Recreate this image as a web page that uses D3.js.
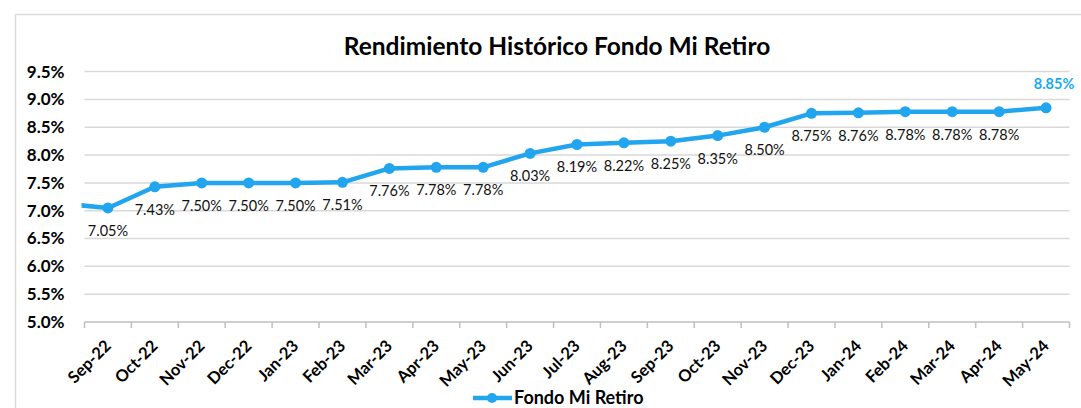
<!DOCTYPE html>
<html>
<head>
<meta charset="utf-8">
<script src="https://cdn.jsdelivr.net/npm/d3@7"></script>
<style>
  body { margin: 0; background: #fff; }
  svg { display: block; font-family: Lato, "Open Sans", sans-serif; }
</style>
</head>
<body>
<div id="chart"></div>
<script>
// chart data
const months = ["Sep-22", "Oct-22", "Nov-22", "Dec-22", "Jan-23", "Feb-23", "Mar-23",
  "Apr-23", "May-23", "Jun-23", "Jul-23", "Aug-23", "Sep-23", "Oct-23", "Nov-23",
  "Dec-23", "Jan-24", "Feb-24", "Mar-24", "Apr-24", "May-24"];
const rendimiento = [7.05, 7.43, 7.50, 7.50, 7.50, 7.51, 7.76, 7.78, 7.78, 8.03, 8.19,
  8.22, 8.25, 8.35, 8.50, 8.75, 8.76, 8.78, 8.78, 8.78, 8.85];
// the line comes in from the month before the first category (cut at the plot edge)
const previousMonth = 7.13;
const yTicks = [5.0, 5.5, 6.0, 6.5, 7.0, 7.5, 8.0, 8.5, 9.0, 9.5];

const width = 1081;
const height = 408;
const blue = "#22a5ef";
const plot = { left: 84.5, right: 1069.5, top: 71.6, bottom: 322 };

const svg = d3.select("#chart")
  .append("svg")
  .attr("width", width)
  .attr("height", height);

// outer chart frame
svg.append("rect")
  .attr("x", 15.5)
  .attr("y", 14.5)
  .attr("width", 1100)
  .attr("height", 420)
  .attr("fill", "none")
  .attr("stroke", "#d9d9d9")
  .attr("stroke-width", 1.5);

svg.append("text")
  .attr("x", 557)
  .attr("y", 55)
  .attr("text-anchor", "middle")
  .attr("font-size", "24.5px")
  .attr("font-weight", "bold")
  .attr("fill", "#000")
  .text("Rendimiento Histórico Fondo Mi Retiro");

const x = d3.scaleBand()
  .domain(months)
  .range([plot.left, plot.right])
  .padding(0);
const bw = x.bandwidth();
const cx = (m) => x(m) + bw / 2;

const y = d3.scaleLinear()
  .domain([5.0, 9.5])
  .range([plot.bottom, plot.top]);

// gridlines
svg.append("g")
  .selectAll("line")
  .data(yTicks.slice(1))
  .enter()
  .append("line")
  .attr("x1", plot.left)
  .attr("x2", plot.right)
  .attr("y1", (d) => y(d))
  .attr("y2", (d) => y(d))
  .attr("stroke", "#d9d9d9")
  .attr("stroke-width", 1.5);

// y axis labels
const yAxis = svg.append("g")
  .attr("transform", `translate(${plot.left},0)`)
  .call(d3.axisLeft(y).tickValues(yTicks).tickSize(0).tickPadding(20)
    .tickFormat((d) => d.toFixed(1) + "%"));
yAxis.select(".domain").remove();
yAxis.selectAll("text")
  .attr("font-family", "Lato, sans-serif")
  .attr("font-size", "17px")
  .attr("font-weight", "bold")
  .attr("fill", "#000");

// x axis: line, ticks between categories, rotated labels
svg.append("line")
  .attr("x1", plot.left)
  .attr("x2", plot.right)
  .attr("y1", plot.bottom)
  .attr("y2", plot.bottom)
  .attr("stroke", "#bfbfbf")
  .attr("stroke-width", 1.5);

const tickPos = months.map((m) => x(m)).concat([plot.right]);
svg.append("g")
  .selectAll("line")
  .data(tickPos)
  .enter()
  .append("line")
  .attr("x1", (d) => d)
  .attr("x2", (d) => d)
  .attr("y1", plot.bottom)
  .attr("y2", plot.bottom + 6)
  .attr("stroke", "#bfbfbf")
  .attr("stroke-width", 1.5);

svg.append("g")
  .selectAll("text")
  .data(months)
  .enter()
  .append("text")
  .attr("transform", (d) => `translate(${cx(d) + 4},${plot.bottom + 25}) rotate(-45)`)
  .attr("text-anchor", "end")
  .attr("font-size", "16.5px")
  .attr("font-weight", "bold")
  .attr("fill", "#000")
  .text((d) => d);

// line + markers
svg.append("clipPath").attr("id", "plot-clip")
  .append("rect")
  .attr("x", plot.left - 3)
  .attr("y", 0)
  .attr("width", plot.right - plot.left + 20)
  .attr("height", height);

const pts = [[x(months[0]) - bw / 2, previousMonth]]
  .concat(months.map((m, i) => [cx(m), rendimiento[i]]));

svg.append("path")
  .datum(pts)
  .attr("clip-path", "url(#plot-clip)")
  .attr("d", d3.line().x((d) => d[0]).y((d) => y(d[1])))
  .attr("fill", "none")
  .attr("stroke", blue)
  .attr("stroke-width", 4.5)
  .attr("stroke-linejoin", "round");

svg.append("g")
  .selectAll("circle")
  .data(months)
  .enter()
  .append("circle")
  .attr("cx", (d) => cx(d))
  .attr("cy", (d, i) => y(rendimiento[i]))
  .attr("r", 5.5)
  .attr("fill", blue);

// data labels
const last = months.length - 1;
svg.append("g")
  .selectAll("text")
  .data(months)
  .enter()
  .append("text")
  .attr("x", (d, i) => cx(d) + (i === last ? 8 : 0))
  .attr("y", (d, i) => y(rendimiento[i]) + (i === last ? -19 : 28))
  .attr("text-anchor", "middle")
  .attr("font-size", "14.5px")
  .attr("font-weight", (d, i) => i === last ? "bold" : "normal")
  .attr("fill", (d, i) => i === last ? "#1aaaf0" : "#111")
  .text((d, i) => rendimiento[i].toFixed(2) + "%");

// legend
const legend = svg.append("g").attr("transform", "translate(473,398)");
legend.append("line")
  .attr("x1", 0)
  .attr("x2", 39)
  .attr("stroke", blue)
  .attr("stroke-width", 4.5);
legend.append("circle")
  .attr("cx", 19)
  .attr("r", 5)
  .attr("fill", blue);
legend.append("text")
  .attr("x", 41)
  .attr("y", 6)
  .attr("font-size", "18px")
  .attr("font-weight", "bold")
  .attr("fill", "#000")
  .text("Fondo Mi Retiro");
</script>
</body>
</html>
